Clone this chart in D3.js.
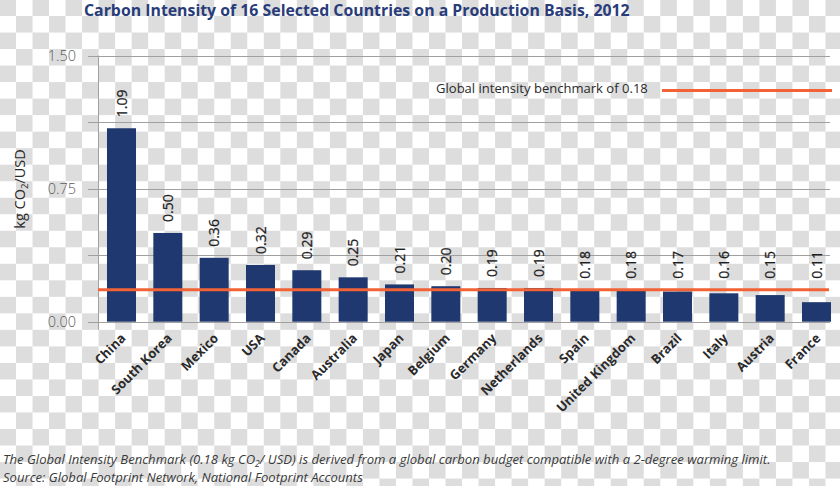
<!DOCTYPE html>
<html>
<head>
<meta charset="utf-8">
<script src="https://cdn.jsdelivr.net/npm/d3@7"></script>
<style>
  html, body { margin: 0; padding: 0; background: #fff; }
  svg { display: block; }
</style>
</head>
<body>
<svg id="chart" width="840" height="486"></svg>
<script>
// ---- data ----
const countries = ["China", "South Korea", "Mexico", "USA", "Canada", "Australia", "Japan", "Belgium",
  "Germany", "Netherlands", "Spain", "United Kingdom", "Brazil", "Italy", "Austria", "France"];
const values = [1.09, 0.50, 0.36, 0.32, 0.29, 0.25, 0.21, 0.20, 0.19, 0.19, 0.18, 0.18, 0.17, 0.16, 0.15, 0.11];
const benchmark = 0.18;
const gridTicks = [0, 0.375, 0.75, 1.125, 1.5];
const labelTicks = [0, 0.75, 1.5];
const titleText = "Carbon Intensity of 16 Selected Countries on a Production Basis, 2012";
const legendText = "Global intensity benchmark of 0.18";
const note1a = "The Global Intensity Benchmark (0.18 kg CO";
const note1b = "/ USD) is derived from a global carbon budget compatible with a 2-degree warming limit.";
const note2 = "Source: Global Footprint Network, National Footprint Accounts";

const W = 840, H = 486;
const svg = d3.select("#chart");

// checkerboard (transparency) backdrop as in the reference
const s = 16.52;
const defs = svg.append("defs");
const pat = defs.append("pattern").attr("id", "chk").attr("patternUnits", "userSpaceOnUse")
  .attr("x", -0.52).attr("y", -0.52).attr("width", 2 * s).attr("height", 2 * s);
pat.append("rect").attr("width", 2 * s).attr("height", 2 * s).attr("fill", "#ffffff");
pat.append("rect").attr("width", s).attr("height", s).attr("fill", "#dddddd");
pat.append("rect").attr("x", s).attr("y", s).attr("width", s).attr("height", s).attr("fill", "#dddddd");
svg.append("rect").attr("width", W).attr("height", H).attr("fill", "url(#chk)");

function fit(sel, target) {
  const w = sel.node().getComputedTextLength();
  const fs = parseFloat(sel.attr("font-size"));
  sel.attr("font-size", (fs * target / w).toFixed(2));
}

// scales
const y = d3.scaleLinear().domain([0, 1.5]).range([321.7, 55.5]);
const x = d3.scaleBand().domain(countries).range([98, 840]).paddingInner(0.374).paddingOuter(0.194);

const axisX = 98, gridL = 88, gridR = 830;

// gridlines
svg.append("g").selectAll("line").data(gridTicks).join("line")
  .attr("x1", gridL).attr("x2", gridR)
  .attr("y1", d => Math.round(y(d)) + 0.5).attr("y2", d => Math.round(y(d)) + 0.5)
  .attr("stroke", "#a0a0a0").attr("stroke-width", 1);

// y axis line
svg.append("line").attr("x1", axisX + 0.5).attr("x2", axisX + 0.5)
  .attr("y1", y(1.5)).attr("y2", y(0) + 8)
  .attr("stroke", "#a0a0a0").attr("stroke-width", 1);

// y tick labels via d3 axis
const yAxis = d3.axisLeft(y).tickValues(labelTicks).tickFormat(d3.format(".2f")).tickSize(0).tickPadding(0);
const gy = svg.append("g").attr("transform", "translate(76,0)").call(yAxis);
gy.select(".domain").remove();
gy.selectAll("text").attr("font-family", "Open Sans, sans-serif").attr("font-size", 14.5)
  .attr("fill", "#5a5a5a").attr("font-weight", 300);

// y axis title
const yt = svg.append("text").attr("transform", "translate(25,189) rotate(-90)")
  .attr("text-anchor", "middle").attr("font-family", "Open Sans, sans-serif").attr("font-size", 14.5)
  .attr("fill", "#2a2a2a");
yt.append("tspan").text("kg CO");
yt.append("tspan").attr("font-size", 9.5).attr("dy", 3).text("2");
yt.append("tspan").attr("dy", -3).text("/USD");

// bars
svg.append("g").selectAll("rect").data(countries).join("rect")
  .attr("x", d => x(d)).attr("width", x.bandwidth())
  .attr("y", (d, i) => y(values[i])).attr("height", (d, i) => y(0) - y(values[i]))
  .attr("fill", "#1f386f");

// benchmark line
svg.append("line").attr("x1", axisX).attr("x2", 829)
  .attr("y1", y(benchmark)).attr("y2", y(benchmark))
  .attr("stroke", "#f26235").attr("stroke-width", 3);

// value labels
svg.append("g").selectAll("text").data(countries).join("text")
  .attr("transform", (d, i) => `translate(${x(d) + x.bandwidth() / 2},${y(Math.max(values[i], benchmark)) - 11}) rotate(-90)`)
  .attr("dy", "0.36em").attr("text-anchor", "start")
  .attr("font-family", "Open Sans, sans-serif").attr("font-size", 14).attr("fill", "#1e1e1e")
  .attr("stroke", "#1e1e1e").attr("stroke-width", 0.25)
  .text((d, i) => d3.format(".2f")(values[i]));

// x labels
svg.append("g").selectAll("text").data(countries).join("text")
  .attr("transform", d => `translate(${x(d) + x.bandwidth() / 2 + 5},339) rotate(-45)`)
  .attr("text-anchor", "end")
  .attr("font-family", "Open Sans, sans-serif").attr("font-weight", "bold").attr("font-size", 13)
  .attr("fill", "#2a2a2a")
  .text(d => d);

// legend
const lg = svg.append("text").attr("x", 436).attr("y", 92.5)
  .attr("font-family", "Open Sans, sans-serif").attr("font-size", 13.5).attr("fill", "#2a2a2a")
  .text(legendText);
fit(lg, 212);
svg.append("line").attr("x1", 662).attr("x2", 832).attr("y1", 90.5).attr("y2", 90.5)
  .attr("stroke", "#f26235").attr("stroke-width", 3);

// title
const tt = svg.append("text").attr("x", 84).attr("y", 16)
  .attr("font-family", "Liberation Sans Narrow, Open Sans, sans-serif").attr("font-weight", "bold")
  .attr("font-size", 17).attr("fill", "#283c7a").text(titleText);
fit(tt, 546);

// footnote
const n1 = svg.append("text").attr("x", 3).attr("y", 464)
  .attr("font-family", "Liberation Sans Narrow, Open Sans, sans-serif").attr("font-style", "italic")
  .attr("font-size", 14).attr("fill", "#3a3a3a");
n1.append("tspan").text(note1a);
n1.append("tspan").attr("font-size", 9).attr("dy", 3).text("2");
n1.append("tspan").attr("dy", -3).text(note1b);
const w1 = n1.node().getComputedTextLength();
const fs1 = 14 * 768 / w1;
n1.attr("font-size", fs1.toFixed(2));
n1.selectAll("tspan").filter((d, i) => i === 1).attr("font-size", (fs1 * 0.65).toFixed(2));
const n2 = svg.append("text").attr("x", 3).attr("y", 482)
  .attr("font-family", "Liberation Sans Narrow, Open Sans, sans-serif").attr("font-style", "italic")
  .attr("font-size", fs1.toFixed(2)).attr("fill", "#3a3a3a").text(note2);
</script>
</body>
</html>
